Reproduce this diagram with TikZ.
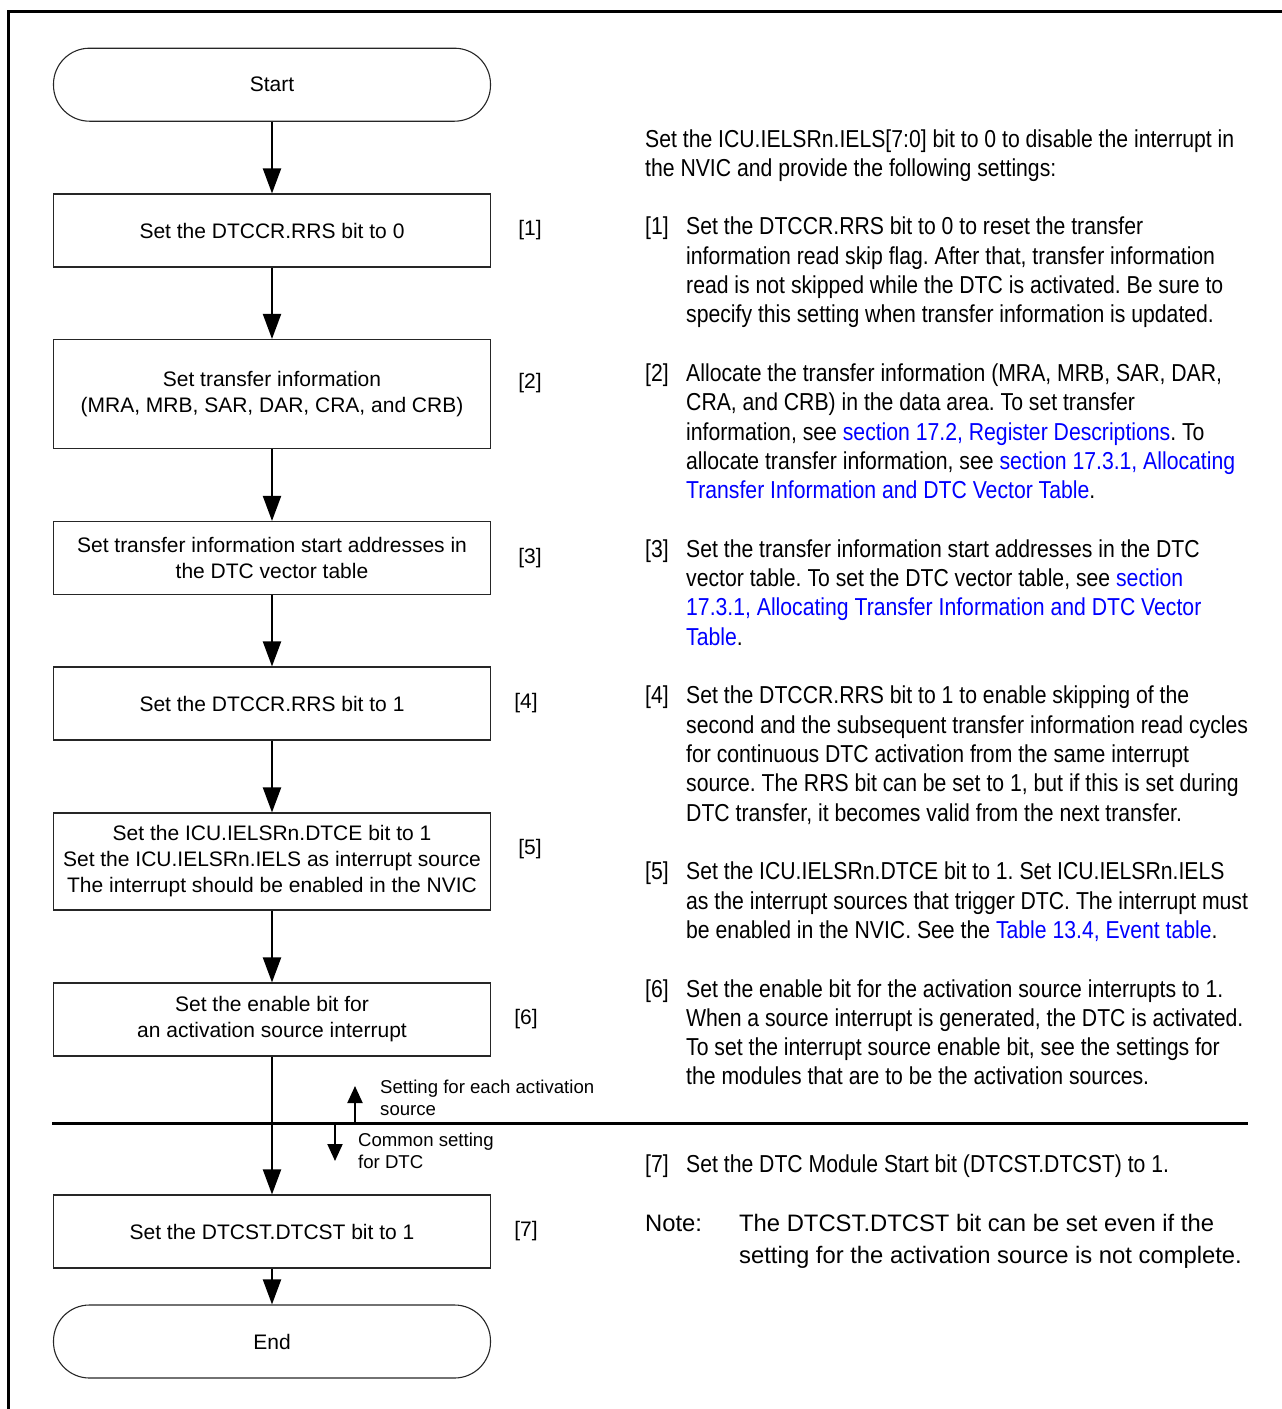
\documentclass[tikz,border=0pt]{standalone}
\usepackage{fontspec}
\setmainfont{Liberation Sans}
\newfontfamily\narrowfont[FakeStretch=0.865]{Liberation Sans}
\usetikzlibrary{arrows.meta}
\definecolor{linkblue}{RGB}{0,0,255}
\newcommand\lk[1]{\textcolor{linkblue}{#1}}
\newcommand\RL[3]{\node[rtext] (#1) at (686,{147+29.31*#2}) {#3};}
\newcommand\RN[3]{\node[rtext] (#1) at (645,{147+29.31*#2}) {#3};}
\frenchspacing
\begin{document}
\begin{tikzpicture}[x=1pt,y=-1pt,
 flowbox/.style={draw=black!85, line width=1.1pt, minimum width=437pt, inner sep=0pt, align=center, font=\fontsize{21}{26}\selectfont},
 term/.style={flowbox, rounded corners=36pt},
 flowarrow/.style={line width=2pt, -{Triangle[length=25pt,width=18pt]}},
 smallarrow/.style={line width=2pt, -{Triangle[length=17pt,width=15pt]}},
 rtext/.style={anchor=base west, inner sep=0pt, font=\narrowfont\fontsize{24.5}{29.3}\selectfont},
 steplabel/.style={inner sep=0pt, font=\fontsize{21}{26}\selectfont},
 smalltext/.style={anchor=base west, inner sep=0pt, font=\fontsize{18.6}{22}\selectfont},
 notetext/.style={anchor=base west, inner sep=0pt, font=\fontsize{23.8}{32.5}\selectfont}]
\useasboundingbox (0,0) rectangle (1282,1409);

% frame (only top and left edges visible)
\coordinate (frBL) at (8.5,1409);
\coordinate (frTL) at (8.5,11.5);
\coordinate (frTR) at (1282,11.5);
\draw[line width=3.3pt] (frBL) -- (frTL) -- (frTR);

% flow
\node[term, minimum height=73pt] (start) at (272,84.7) {Start};
\node[flowbox, minimum height=73pt] (b1) at (272,230.5) {Set the DTCCR.RRS bit to 0};
\node[flowbox, minimum height=109pt] (b2) at (272,394) {Set transfer information\\(MRA, MRB, SAR, DAR, CRA, and CRB)};
\node[flowbox, minimum height=73pt] (b3) at (272,558) {Set transfer information start addresses in\\the DTC vector table};
\node[flowbox, minimum height=73pt] (b4) at (272,703.5) {Set the DTCCR.RRS bit to 1};
\node[flowbox, minimum height=97pt] (b5) at (272,861.5) {Set the ICU.IELSRn.DTCE bit to 1\\Set the ICU.IELSRn.IELS as interrupt source\\The interrupt should be enabled in the NVIC};
\node[flowbox, minimum height=73pt] (b6) at (272,1019.5) {Set the enable bit for\\an activation source interrupt};
\node[flowbox, minimum height=73pt] (b7) at (272,1231.5) {Set the DTCST.DTCST bit to 1};
\node[term, minimum height=73pt] (end) at (272,1341.5) {End};

\draw[flowarrow] (start) -- (b1);
\draw[flowarrow] (b1) -- (b2);
\draw[flowarrow] (b2) -- (b3);
\draw[flowarrow] (b3) -- (b4);
\draw[flowarrow] (b4) -- (b5);
\draw[flowarrow] (b5) -- (b6);
\draw[flowarrow] (b6) -- (b7);
\draw[flowarrow] (b7) -- (end);

% step labels
\node[steplabel] (l1) at (530,230.5) {[1]};
\node[steplabel] (l2) at (530,383) {[2]};
\node[steplabel] (l3) at (530,558) {[3]};
\node[steplabel] (l4) at (526,703.5) {[4]};
\node[steplabel] (l5) at (530,849) {[5]};
\node[steplabel] (l6) at (526,1019.5) {[6]};
\node[steplabel] (l7) at (526,1231.5) {[7]};

% separator
\coordinate (sepL) at (52,1123);
\coordinate (sepR) at (1248,1123);
\draw[line width=3pt] (sepL) -- (sepR);
\coordinate (upbase) at (355,1123);
\coordinate (uptip) at (355,1086);
\draw[smallarrow] (upbase) -- (uptip);
\coordinate (dnbase) at (335,1123);
\coordinate (dntip) at (335,1161);
\draw[smallarrow] (dnbase) -- (dntip);
\node[smalltext] (s1a) at (380,1093) {Setting for each activation};
\node[smalltext] (s1b) at (380,1115) {source};
\node[smalltext] (s2a) at (358,1146.5) {Common setting};
\node[smalltext] (s2b) at (358,1168) {for DTC};

% right column
\RN{i0}{0}{Set the ICU.IELSRn.IELS[7:0] bit to 0 to disable the interrupt in}
\RN{i1}{1}{the NVIC and provide the following settings:}

\RN{n1}{3}{[1]}
\RL{t1a}{3}{Set the DTCCR.RRS bit to 0 to reset the transfer}
\RL{t1b}{4}{information read skip flag. After that, transfer information}
\RL{t1c}{5}{read is not skipped while the DTC is activated. Be sure to}
\RL{t1d}{6}{specify this setting when transfer information is updated.}

\RN{n2}{8}{[2]}
\RL{t2a}{8}{Allocate the transfer information (MRA, MRB, SAR, DAR,}
\RL{t2b}{9}{CRA, and CRB) in the data area. To set transfer}
\RL{t2c}{10}{information, see \lk{section 17.2, Register Descriptions}. To}
\RL{t2d}{11}{allocate transfer information, see \lk{section 17.3.1, Allocating}}
\RL{t2e}{12}{\lk{Transfer Information and DTC Vector Table}.}

\RN{n3}{14}{[3]}
\RL{t3a}{14}{Set the transfer information start addresses in the DTC}
\RL{t3b}{15}{vector table. To set the DTC vector table, see \lk{section}}
\RL{t3c}{16}{\lk{17.3.1, Allocating Transfer Information and DTC Vector}}
\RL{t3d}{17}{\lk{Table}.}

\RN{n4}{19}{[4]}
\RL{t4a}{19}{Set the DTCCR.RRS bit to 1 to enable skipping of the}
\RL{t4b}{20}{second and the subsequent transfer information read cycles}
\RL{t4c}{21}{for continuous DTC activation from the same interrupt}
\RL{t4d}{22}{source. The RRS bit can be set to 1, but if this is set during}
\RL{t4e}{23}{DTC transfer, it becomes valid from the next transfer.}

\RN{n5}{25}{[5]}
\RL{t5a}{25}{Set the ICU.IELSRn.DTCE bit to 1. Set ICU.IELSRn.IELS}
\RL{t5b}{26}{as the interrupt sources that trigger DTC. The interrupt must}
\RL{t5c}{27}{be enabled in the NVIC. See the \lk{Table 13.4, Event table}.}

\RN{n6}{29}{[6]}
\RL{t6a}{29}{Set the enable bit for the activation source interrupts to 1.}
\RL{t6b}{30}{When a source interrupt is generated, the DTC is activated.}
\RL{t6c}{31}{To set the interrupt source enable bit, see the settings for}
\RL{t6d}{32}{the modules that are to be the activation sources.}

\RN{n7}{35}{[7]}
\RL{t7a}{35}{Set the DTC Module Start bit (DTCST.DTCST) to 1.}

\node[notetext] (note) at (645,1231) {Note:};
\node[notetext] (notea) at (739,1231) {The DTCST.DTCST bit can be set even if the};
\node[notetext] (noteb) at (739,1263.5) {setting for the activation source is not complete.};
\end{tikzpicture}
\end{document}
